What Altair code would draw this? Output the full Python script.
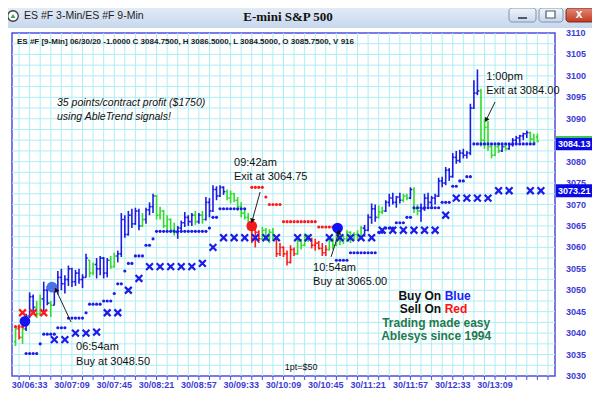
import math
import altair as alt
import pandas as pd

# ---------------- data ----------------
BAR_T0 = 381      # first 3-min bar, minutes after midnight (06:21)
BAR_STEP = 3

bar_color = [
    "g","r","g","b","b","b","g","g","b","b",
    "g","b","b","b","b","b","b","b","b","b",
    "b","g","g","b","b","b","b","g","g","b",
    "b","b","b","b","b","b","g","b","b","b",
    "g","g","g","g","g","g","b","b","b","b",
    "b","g","b","g","b","b","b","b","b","b",
    "g","g","g","g","g","g","g","r","r","r",
    "g","g","g","g","r","r","r","r","r","r",
    "g","g","g","g","r","r","r","r","r","g",
    "g","g","g","g","g","g","g","g","g","b",
    "b","b","b","g","g","b","b","b","b","b",
    "g","g","b","g","g","b","b","b","b","b",
    "b","b","b","b","b","b","b","b","b","b",
    "b","b","g","g","g","g","g","g","b","g",
    "b","b","b","b","b","b","g","g","g"]

bar_high = [
    3041.5, 3042.0, 3041.5, 3044.5, 3049.5, 3049.0, 3047.5, 3049.0, 3052.0, 3051.0,
    3047.5, 3050.75, 3054.5, 3055.0, 3053.5, 3055.75, 3055.25, 3054.75, 3055.0, 3053.75,
    3058.5, 3057.0, 3056.5, 3057.5, 3058.0, 3057.75, 3057.5, 3058.0, 3058.75, 3059.25,
    3068.0, 3067.5, 3068.5, 3069.0, 3069.25, 3069.0, 3068.0, 3069.25, 3070.5, 3072.5,
    3072.25, 3069.5, 3068.75, 3067.5, 3066.75, 3065.75, 3065.0, 3066.25, 3068.25, 3067.5,
    3068.0, 3068.5, 3068.0, 3068.5, 3071.75, 3071.5, 3074.5, 3074.25, 3074.5, 3074.25,
    3073.5, 3073.25, 3072.75, 3071.75, 3070.5, 3069.0, 3068.0, 3065.5, 3064.75, 3064.0,
    3064.75, 3064.5, 3064.25, 3064.5, 3062.25, 3061.0, 3060.25, 3059.25, 3060.5, 3060.0,
    3062.25, 3062.0, 3063.25, 3063.0, 3062.25, 3062.0, 3061.5, 3061.0, 3060.5, 3062.0,
    3062.25, 3063.5, 3063.25, 3062.75, 3064.0, 3063.75, 3063.5, 3064.0, 3065.0, 3065.25,
    3067.75, 3070.25, 3070.0, 3069.75, 3069.5, 3071.0, 3072.5, 3072.75, 3072.0, 3072.75,
    3072.5, 3072.5, 3074.0, 3074.0, 3070.0, 3070.25, 3072.5, 3072.75, 3072.0, 3072.5,
    3076.25, 3076.5, 3078.75, 3078.5, 3082.0, 3082.5, 3082.75, 3083.0, 3082.5, 3093.5,
    3099.0, 3101.5, 3097.0, 3090.0, 3089.5, 3084.0, 3084.25, 3084.5, 3084.0, 3084.0,
    3084.25, 3085.5, 3086.0, 3086.25, 3086.75, 3087.25, 3087.0, 3086.5, 3086.5]

bar_low = [
    3037.0, 3038.5, 3037.5, 3040.5, 3043.5, 3045.0, 3043.5, 3044.0, 3045.0, 3046.5,
    3043.75, 3046.5, 3049.0, 3050.0, 3049.25, 3051.0, 3050.75, 3051.0, 3051.5, 3050.5,
    3053.0, 3053.0, 3053.5, 3052.75, 3053.5, 3052.75, 3053.0, 3055.0, 3055.25, 3056.5,
    3057.75, 3062.25, 3062.75, 3064.5, 3065.25, 3064.0, 3064.75, 3065.5, 3067.5, 3068.0,
    3066.5, 3066.5, 3064.5, 3064.0, 3063.5, 3062.75, 3062.0, 3063.5, 3064.75, 3065.0,
    3065.0, 3065.25, 3065.5, 3065.5, 3066.25, 3067.0, 3068.25, 3071.0, 3071.75, 3072.25,
    3071.0, 3070.25, 3070.5, 3068.5, 3067.0, 3066.5, 3064.0, 3061.0, 3060.0, 3061.0,
    3061.75, 3061.5, 3061.0, 3061.5, 3057.75, 3058.0, 3057.75, 3055.75, 3056.25, 3058.0,
    3058.25, 3059.5, 3060.25, 3061.25, 3059.75, 3059.25, 3059.5, 3058.0, 3058.0, 3059.25,
    3059.5, 3060.25, 3060.5, 3060.75, 3061.25, 3061.0, 3061.5, 3061.75, 3062.0, 3062.5,
    3063.75, 3065.5, 3066.0, 3066.75, 3067.75, 3068.25, 3069.5, 3070.0, 3069.25, 3070.25,
    3070.5, 3071.0, 3071.25, 3068.0, 3067.5, 3066.0, 3068.5, 3069.5, 3069.0, 3070.0,
    3071.75, 3074.0, 3074.5, 3075.5, 3076.25, 3079.5, 3079.75, 3080.75, 3080.75, 3081.5,
    3092.25, 3095.5, 3083.5, 3083.0, 3082.5, 3080.75, 3081.25, 3082.0, 3082.25, 3082.5,
    3082.75, 3083.5, 3084.25, 3084.5, 3085.0, 3085.5, 3084.5, 3084.25, 3084.5]

bar_open = [
    3038.0, 3041.0, 3039.0, 3041.0, 3044.0, 3048.5, 3046.0, 3044.5, 3048.0, 3050.0,
    3047.0, 3046.5, 3050.0, 3053.0, 3051.5, 3052.5, 3055.0, 3052.0, 3054.0, 3052.5,
    3053.0, 3057.0, 3054.0, 3056.0, 3055.0, 3057.5, 3054.0, 3057.0, 3055.5, 3058.0,
    3058.5, 3066.5, 3063.0, 3067.5, 3065.5, 3068.5, 3065.0, 3066.5, 3068.75, 3069.5,
    3072.0, 3067.5, 3068.5, 3065.0, 3066.5, 3064.0, 3063.5, 3064.5, 3065.75, 3067.0,
    3066.0, 3067.5, 3066.0, 3067.5, 3066.5, 3070.5, 3068.5, 3073.5, 3072.0, 3074.0,
    3073.0, 3071.5, 3072.5, 3071.0, 3069.5, 3068.0, 3067.0, 3064.75, 3062.0, 3063.5,
    3062.0, 3064.0, 3062.5, 3063.5, 3062.0, 3058.5, 3060.0, 3058.5, 3056.5, 3059.5,
    3058.5, 3061.5, 3060.5, 3062.5, 3062.0, 3060.5, 3061.0, 3059.75, 3058.75, 3059.5,
    3061.5, 3060.5, 3063.0, 3061.5, 3062.0, 3063.5, 3062.0, 3063.0, 3062.5, 3064.5,
    3064.0, 3067.0, 3069.0, 3067.0, 3068.25, 3068.5, 3070.5, 3071.5, 3070.5, 3071.75,
    3071.0, 3072.0, 3071.5, 3073.5, 3069.0, 3068.5, 3069.0, 3071.5, 3070.5, 3071.5,
    3072.0, 3075.5, 3075.0, 3078.0, 3076.5, 3081.0, 3080.25, 3082.0, 3081.5, 3082.0,
    3092.5, 3096.0, 3096.5, 3085.0, 3088.0, 3083.5, 3081.5, 3083.5, 3082.5, 3083.5,
    3083.0, 3084.0, 3085.0, 3085.5, 3086.0, 3086.5, 3086.75, 3085.25, 3085.75]

bar_close = [
    3041.0, 3039.0, 3041.0, 3044.0, 3048.5, 3046.0, 3044.5, 3048.0, 3050.0, 3047.0,
    3046.5, 3050.0, 3053.0, 3051.5, 3052.5, 3055.0, 3052.0, 3054.0, 3052.5, 3053.0,
    3057.5, 3054.0, 3056.0, 3055.0, 3057.5, 3054.0, 3057.0, 3055.5, 3058.0, 3058.5,
    3066.5, 3063.0, 3067.5, 3065.5, 3068.5, 3065.0, 3066.5, 3068.75, 3069.5, 3072.0,
    3067.5, 3068.5, 3065.0, 3066.5, 3064.0, 3063.5, 3064.5, 3065.75, 3067.0, 3066.0,
    3067.5, 3066.0, 3067.5, 3066.5, 3070.5, 3068.5, 3073.5, 3072.0, 3074.0, 3073.0,
    3071.5, 3072.5, 3071.0, 3069.5, 3068.0, 3067.0, 3064.75, 3062.0, 3063.5, 3062.0,
    3064.0, 3062.5, 3063.5, 3062.0, 3058.5, 3060.0, 3058.5, 3056.5, 3059.5, 3058.5,
    3061.5, 3060.5, 3062.5, 3062.0, 3060.5, 3061.0, 3059.75, 3058.75, 3059.5, 3061.5,
    3060.5, 3063.0, 3061.5, 3062.0, 3063.5, 3062.0, 3063.0, 3062.5, 3064.5, 3064.0,
    3067.0, 3069.0, 3067.0, 3068.25, 3068.5, 3070.5, 3071.5, 3070.5, 3071.75, 3071.0,
    3072.0, 3071.5, 3073.5, 3069.0, 3068.5, 3069.0, 3071.5, 3070.5, 3071.5, 3072.0,
    3075.5, 3075.0, 3078.0, 3076.5, 3081.0, 3080.25, 3082.0, 3081.5, 3082.0, 3092.5,
    3096.0, 3096.5, 3085.0, 3088.0, 3083.5, 3081.5, 3083.5, 3082.5, 3083.5, 3083.0,
    3084.0, 3085.0, 3085.5, 3086.0, 3086.5, 3086.75, 3085.25, 3084.5, 3084.75]

# trailing stop dots: (first bar, last bar, price, side)
stop_runs = [
    (0, 2, 3041.5, "r"),
    (3, 6, 3035.25, "b"), (7, 7, 3037.5, "b"), (8, 11, 3039.75, "b"),
    (12, 14, 3041.25, "b"), (15, 19, 3043.5, "b"), (20, 20, 3044.75, "b"),
    (21, 24, 3046.75, "b"), (25, 27, 3047.5, "b"), (28, 28, 3049.25, "b"),
    (29, 30, 3051.5, "b"), (31, 31, 3054.5, "b"), (32, 33, 3056.25, "b"),
    (34, 36, 3058.0, "b"), (37, 38, 3060.5, "b"), (39, 39, 3062.0, "b"),
    (40, 54, 3063.75, "b"), (55, 55, 3064.5, "b"), (56, 57, 3067.0, "b"),
    (58, 65, 3069.0, "b"),
    (67, 70, 3074.0, "r"), (71, 71, 3071.75, "r"), (72, 75, 3070.0, "r"),
    (76, 85, 3066.0, "r"), (86, 90, 3064.75, "r"),
    (91, 94, 3057.0, "b"), (95, 102, 3058.75, "b"), (103, 104, 3063.5, "b"),
    (105, 107, 3064.5, "b"), (108, 110, 3065.75, "b"), (111, 112, 3067.0, "b"),
    (113, 120, 3069.25, "b"), (121, 123, 3070.5, "b"), (124, 125, 3074.25, "b"),
    (126, 127, 3075.5, "b"), (128, 129, 3076.5, "b"), (130, 147, 3084.13, "b"),
]

# long-term stop "X" markers (time in minutes, price, side)
xmark_time = [387, 396, 405, 414, 423, 432, 441, 450, 459, 468, 477, 486,
              495, 504, 513, 522, 531, 540, 549,
              558, 567, 576, 585, 594, 603, 621, 630, 648, 657, 666, 675, 684,
              693, 702, 711, 720, 729, 738, 747, 756, 765, 774, 783,
              792, 801, 819, 828]
xmark_price = [3044.75, 3044.75, 3044.75, 3038.5, 3038.5, 3040.0, 3040.0, 3040.25,
               3044.75, 3044.75, 3050.0, 3052.75,
               3055.5, 3055.5, 3055.5, 3055.5, 3055.5, 3056.25, 3060.0,
               3062.25, 3062.25, 3062.25, 3062.25, 3062.25, 3062.25, 3062.25, 3062.25,
               3062.25, 3062.25, 3062.25, 3062.25, 3062.25,
               3064.0, 3064.0, 3064.0, 3064.0, 3064.0, 3064.0, 3067.5,
               3071.5, 3071.5, 3071.5, 3071.5,
               3073.21, 3073.21, 3073.21, 3073.21]
xmark_side = ["r", "r", "r"] + ["b"] * 44

# signal circles
signal_time = [389, 412, 582, 655]
signal_price = [3042.75, 3050.75, 3065.0, 3064.5]
signal_fill = ["#1414f0", "#4a74e6", "#f01a1a", "#1010ff"]

# annotations
note_text = ["06:54am", "Buy at 3048.50", "09:42am", "Exit at 3064.75",
             "10:54am", "Buy at 3065.00", "1:00pm", "Exit at 3084.00"]
note_time = [432.5, 432.5, 566.9, 566.9, 634.2, 634.2, 781.4, 781.4]
note_price = [3036.8, 3033.3, 3079.7, 3076.4, 3055.2, 3051.9, 3099.7, 3096.5]

arrow_from = [(428.2, 3042.6), (589.1, 3072.9), (649.5, 3057.8), (789.0, 3093.9)]
arrow_to = [(415.4, 3050.1), (582.3, 3066.2), (656.3, 3063.6), (781.4, 3089.7)]

promo_text = ["35 points/contract profit ($1750)", "using AbleTrend signals!"]
promo_time = [416.3, 416.3]
promo_price = [3093.7, 3090.4]

price_boxes = [3084.13, 3073.21]

# axis ticks / labels (3085 sits under the 3084.13 price box, so it is not shown)
grid_times = [393 + 9 * k for k in range(-1, 50) if 393 + 9 * k <= 840]
label_times = [393 + 36 * k for k in range(12)]          # 06:33 ... 13:09
grid_prices = [3030 + 2.5 * k for k in range(1, 32)]
label_prices = [3030 + 5 * k for k in range(17) if k != 11]

# ---------------- scales / geometry ----------------
T_MIN, T_MAX = 378, 840
P_MIN, P_MAX = 3030, 3110
W, H = 543, 343

XS = alt.Scale(domain=[T_MIN, T_MAX], nice=False, zero=False)
YS = alt.Scale(domain=[P_MIN, P_MAX], nice=False, zero=False)
COL = alt.Scale(domain=["b", "g", "r"], range=["#1c1ce8", "#30dc30", "#ff1a1a"])

SANS = "Liberation Sans, Arial, sans-serif"
AXIS_BLUE = "#3b3bd6"
GRID = "#aeeef2"


def px(t):
    return (t - T_MIN) * W / (T_MAX - T_MIN)


def py(p):
    return (P_MAX - p) * H / (P_MAX - P_MIN)


def X(field):
    return alt.X(field, type="quantitative", scale=XS, axis=None)


def Y(field):
    return alt.Y(field, type="quantitative", scale=YS, axis=None)


# ---------------- tables ----------------
times = [BAR_T0 + BAR_STEP * i for i in range(len(bar_high))]
bars = pd.DataFrame({"t": times, "h": bar_high, "l": bar_low,
                     "o": bar_open, "c": bar_close, "col": bar_color})

dot_rows = []
for s, e, p, side in stop_runs:
    for i in range(s, e + 1):
        dot_rows.append({"t": BAR_T0 + BAR_STEP * i, "p": p, "col": side})
dots = pd.DataFrame(dot_rows)

xmarks = pd.DataFrame({"t": xmark_time, "p": xmark_price, "col": xmark_side})
signals = pd.DataFrame({"t": signal_time, "p": signal_price, "f": signal_fill})
notes = pd.DataFrame({"txt": note_text, "t": note_time, "p": note_price})
promo = pd.DataFrame({"txt": promo_text, "t": promo_time, "p": promo_price})

arrows = pd.DataFrame({"t1": [a[0] for a in arrow_from], "p1": [a[1] for a in arrow_from],
                       "t2": [a[0] for a in arrow_to], "p2": [a[1] for a in arrow_to]})
heads = []
for (t1, p1), (t2, p2) in zip(arrow_from, arrow_to):
    dx = px(t2) - px(t1)
    dy = py(p2) - py(p1)
    ang = math.degrees(math.atan2(dx, -dy)) % 360
    heads.append({"t": t2, "p": p2, "a": ang})
heads = pd.DataFrame(heads)

boxes = pd.DataFrame({"p": price_boxes, "lbl": [f"{v:.2f}" for v in price_boxes]})


def hhmm(m):
    return f"30/{m // 60:02d}:{m % 60:02d}"


xgrid = pd.DataFrame({"t": grid_times})
ygrid = pd.DataFrame({"p": grid_prices})
xlabels = pd.DataFrame({"t": label_times, "lbl": [hhmm(m) for m in label_times]})
ylabels = pd.DataFrame({"p": label_prices, "lbl": [str(v) for v in label_prices]})

one = pd.DataFrame({"k": [0]})

# ---------------- layers ----------------
vgrid = alt.Chart(xgrid).mark_rule(color=GRID, strokeWidth=1).encode(x=X("t"))
hgrid = alt.Chart(ygrid).mark_rule(color=GRID, strokeWidth=1).encode(y=Y("p"))
xticks = alt.Chart(xgrid).mark_rule(color="#4d4de0", strokeWidth=1).encode(
    x=X("t"), y=alt.value(H), y2=alt.value(H + 4))
xlab = alt.Chart(xlabels).mark_text(align="center", baseline="middle", font=SANS,
                                    fontSize=9, fontWeight="bold", color=AXIS_BLUE).encode(
    x=X("t"), y=alt.value(H + 9), text="lbl:N")
ylab = alt.Chart(ylabels).mark_text(align="left", baseline="middle", font=SANS,
                                    fontSize=9, fontWeight="bold", color=AXIS_BLUE).encode(
    x=alt.value(W + 11), y=Y("p"), text="lbl:N")

# title bar (window chrome)
title_bar = alt.Chart(one).mark_rect(
    fill=alt.Gradient(gradient="linear", x1=0, x2=0, y1=0, y2=1,
                      stops=[alt.GradientStop(color="#e2ebf7", offset=0),
                             alt.GradientStop(color="#c7d7ec", offset=1)])
).encode(x=alt.value(-4), x2=alt.value(580), y=alt.value(-25), y2=alt.value(-5))

icon = alt.Chart(one).mark_point(shape="circle", filled=True, size=110, fill="#ffffff",
                                 stroke="#3a3a3a", strokeWidth=1.3, opacity=1
                                 ).encode(x=alt.value(1), y=alt.value(-17))
icon2 = alt.Chart(one).mark_point(shape="triangle-up", filled=True, size=22,
                                  color="#3aa040", opacity=1
                                  ).encode(x=alt.value(1), y=alt.value(-17))
win_title = alt.Chart(one).mark_text(text="ES #F 3-Min/ES #F 9-Min", align="left",
                                     baseline="middle", font=SANS, fontSize=10.5,
                                     color="#1e1e1e"
                                     ).encode(x=alt.value(12), y=alt.value(-17))
main_title = alt.Chart(one).mark_text(text="E-mini S&P 500", align="center",
                                      baseline="middle",
                                      font="Liberation Serif, Times New Roman, serif",
                                      fontSize=13, fontWeight="bold", color="#111111"
                                      ).encode(x=alt.value(276), y=alt.value(-16))

btn_fill = alt.Gradient(gradient="linear", x1=0, x2=0, y1=0, y2=1,
                        stops=[alt.GradientStop(color="#f1f5fb", offset=0),
                               alt.GradientStop(color="#c9d6e8", offset=1)])
btn_min = alt.Chart(one).mark_rect(fill=btn_fill, stroke="#8194b0", strokeWidth=1,
                                   cornerRadius=3
                                   ).encode(x=alt.value(497), x2=alt.value(524),
                                            y=alt.value(-25), y2=alt.value(-11))
btn_max = alt.Chart(one).mark_rect(fill=btn_fill, stroke="#8194b0", strokeWidth=1,
                                   cornerRadius=3
                                   ).encode(x=alt.value(527), x2=alt.value(551),
                                            y=alt.value(-25), y2=alt.value(-11))
btn_close = alt.Chart(one).mark_rect(
    fill=alt.Gradient(gradient="linear", x1=0, x2=0, y1=0, y2=1,
                      stops=[alt.GradientStop(color="#e08a78", offset=0),
                             alt.GradientStop(color="#c23a22", offset=1)]),
    stroke="#7d2a1c", strokeWidth=1, cornerRadius=3
).encode(x=alt.value(554), x2=alt.value(582), y=alt.value(-25), y2=alt.value(-11))
min_icon = alt.Chart(one).mark_rect(color="#4a5a72").encode(
    x=alt.value(506), x2=alt.value(515), y=alt.value(-16), y2=alt.value(-14))
max_icon = alt.Chart(one).mark_rect(fill="#ffffff", stroke="#4a5a72", strokeWidth=1.2).encode(
    x=alt.value(534), x2=alt.value(543), y=alt.value(-22), y2=alt.value(-15))
close_icon = alt.Chart(one).mark_text(text="x", align="center", baseline="middle",
                                      font=SANS, fontSize=12, fontWeight="bold",
                                      color="#ffffff"
                                      ).encode(x=alt.value(567), y=alt.value(-19))

# OHLC bars
hl = alt.Chart(bars).mark_rule(strokeWidth=1.6).encode(
    x=X("t"), y=Y("l"), y2="h:Q",
    color=alt.Color("col:N", scale=COL, legend=None),
)
open_tick = alt.Chart(bars).transform_calculate(tl="datum.t - 1.35").mark_rule(
    strokeWidth=1.6).encode(
    x=X("tl"), x2="t:Q", y=Y("o"),
    color=alt.Color("col:N", scale=COL, legend=None),
)
close_tick = alt.Chart(bars).transform_calculate(tr="datum.t + 1.35").mark_rule(
    strokeWidth=1.6).encode(
    x=X("t"), x2="tr:Q", y=Y("c"),
    color=alt.Color("col:N", scale=COL, legend=None),
)

dot_layer = alt.Chart(dots).mark_circle(size=10, opacity=1).encode(
    x=X("t"), y=Y("p"), color=alt.Color("col:N", scale=COL, legend=None),
)

x_layer = alt.Chart(xmarks).mark_point(
    shape="M-1,-1L1,1M1,-1L-1,1", filled=False, size=46, strokeWidth=2.2, opacity=1
).encode(x=X("t"), y=Y("p"), color=alt.Color("col:N", scale=COL, legend=None))

sig_layers = []
for t, p, f in zip(signal_time, signal_price, signal_fill):
    sig_layers.append(
        alt.Chart(signals[signals["t"] == t]).mark_circle(size=115, opacity=1, color=f)
        .encode(x=X("t"), y=Y("p"))
    )

arrow_lines = alt.Chart(arrows).mark_rule(color="#222222", strokeWidth=1).encode(
    x=X("t1"), x2="t2:Q", y=Y("p1"), y2="p2:Q",
)
arrow_heads = alt.Chart(heads).mark_point(shape="triangle-up", filled=True, size=28,
                                          color="#111111", opacity=1).encode(
    x=X("t"), y=Y("p"), angle=alt.Angle("a:Q", scale=None),
)

note_layer = alt.Chart(notes).mark_text(align="left", baseline="middle", font=SANS,
                                        fontSize=11, color="#111111").encode(
    x=X("t"), y=Y("p"), text="txt:N",
)
promo_layer = alt.Chart(promo).mark_text(align="left", baseline="middle", font=SANS,
                                         fontSize=10.5, fontStyle="italic",
                                         color="#111111").encode(
    x=X("t"), y=Y("p"), text="txt:N",
)

# Buy/Sell legend text block
legend_rows = pd.DataFrame({
    "txt": ["Buy On", "Blue", "Sell On", "Red", "Trading made easy", "Ablesys since 1994"],
    "t": [743.1, 746.1, 743.1, 746.1, 738.9, 738.9],
    "p": [3048.7, 3048.7, 3045.6, 3045.6, 3042.4, 3039.3],
    "al": ["r", "l", "r", "l", "c", "c"],
    "clr": ["#111111", "#2020ff", "#111111", "#ff1010", "#1f7a50", "#1f7a50"],
})
legend_layers = []
for al, align in [("r", "right"), ("l", "left"), ("c", "center")]:
    legend_layers.append(
        alt.Chart(legend_rows[legend_rows["al"] == al]).mark_text(
            align=align, baseline="middle", font=SANS, fontSize=12, fontWeight="bold"
        ).encode(x=X("t"), y=Y("p"), text="txt:N",
                 color=alt.Color("clr:N", scale=None))
    )

pt_note = alt.Chart(pd.DataFrame({"t": [624.0], "p": [3032.1], "txt": ["1pt=$50"]})).mark_text(
    align="center", baseline="middle", font=SANS, fontSize=9, color="#111111").encode(
    x=X("t"), y=Y("p"), text="txt:N",
)

header = alt.Chart(one).mark_text(
    text="ES #F [9-Min] 06/30/20  -1.0000 C 3084.7500, H 3086.5000, L 3084.5000, O 3085.7500, V 916",
    align="left", baseline="middle", font=SANS, fontSize=8, fontWeight="bold",
    color="#1a1a1a").encode(x=alt.value(5), y=alt.value(9))

box_rect = alt.Chart(boxes).transform_calculate(
    p1="datum.p + 1.5", p2="datum.p - 1.5").mark_rect(color="#0a0ae6").encode(
    x=alt.value(W + 1), x2=alt.value(W + 40), y=Y("p1"), y2="p2:Q",
)
box_top = alt.Chart(boxes[boxes["p"] == price_boxes[0]]).transform_calculate(
    p1="datum.p + 1.85", p2="datum.p + 1.5").mark_rect(color="#22dd22").encode(
    x=alt.value(W + 1), x2=alt.value(W + 40), y=Y("p1"), y2="p2:Q",
)
box_text = alt.Chart(boxes).mark_text(align="left", baseline="middle", font=SANS,
                                      fontSize=9, fontWeight="bold",
                                      color="#ffffff").encode(
    x=alt.value(W + 3), y=Y("p"), text="lbl:N",
)

chart = alt.layer(
    vgrid, hgrid, xticks, xlab, ylab,
    hl, open_tick, close_tick, dot_layer, x_layer, *sig_layers,
    arrow_lines, arrow_heads, note_layer, promo_layer, *legend_layers, pt_note,
    box_rect, box_top, box_text, header,
    title_bar, icon, icon2, win_title, main_title,
    btn_min, btn_max, btn_close, min_icon, max_icon, close_icon,
).properties(
    width=W, height=H,
    autosize=alt.AutoSizeParams(type="none"),
    padding={"left": 4, "top": 25, "right": 37, "bottom": 15},
    background="#ffffff",
).configure_view(stroke="#4d4de0", strokeWidth=1.5)

chart.save("out.html", embed_options={"renderer": "svg", "actions": False})
